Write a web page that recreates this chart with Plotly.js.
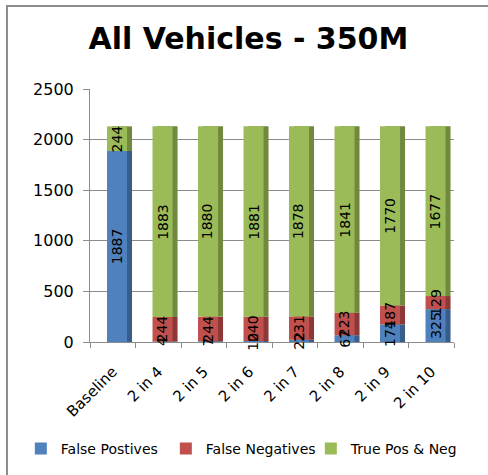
<!DOCTYPE html>
<html>
<head>
<meta charset="utf-8">
<script src="https://cdn.plot.ly/plotly-3.0.1.min.js"></script>
<style>
  html, body { margin: 0; padding: 0; background: #fff; }
  #frame { position: absolute; left: 6px; top: 5px; width: 482px; height: 470px;
           border-left: 2px solid #8c8c8c; border-top: 2px solid #8c8c8c; box-sizing: border-box; }
  #chart { position: absolute; left: 0; top: 0; width: 488px; height: 475px; }
</style>
</head>
<body>
<div id="frame"></div>
<div id="chart"></div>
<script>
// categories and series
const categories = ['Baseline', '2 in 4', '2 in 5', '2 in 6', '2 in 7', '2 in 8', '2 in 9', '2 in 10'];
const falsePositives = [1887, 4, 7, 10, 22, 67, 174, 325];
const falseNegatives = [0, 244, 244, 240, 231, 223, 187, 129];
const truePosNeg = [244, 1883, 1880, 1881, 1878, 1841, 1770, 1677];
const yTicks = [0, 500, 1000, 1500, 2000, 2500];

const fontFamily = 'DejaVu Sans, Verdana, sans-serif';

// stack bottoms, worked out from the series
const fnBase = falsePositives.slice();
const tpnBase = falsePositives.map((v, i) => v + falseNegatives[i]);

const series = [
    { name: 'False Postives', values: falsePositives, base: categories.map(() => 0), color: '#4f81bd', side: '#385d8a' },
    { name: 'False Negatives', values: falseNegatives, base: fnBase, color: '#c0504d', side: '#8c3836' },
    { name: 'True Pos & Neg', values: truePosNeg, base: tpnBase, color: '#9bbb59', side: '#71893f' }
];

const frontOffset = -0.126; // front face starts a bit right of slot centre
const barWidth = 0.44;
const depth = 0.11;          // fake 3D side face

// dark side faces first (behind), then the front faces
const sideTraces = series.map(s => ({
    type: 'bar',
    x: categories,
    y: s.values,
    base: s.base,
    width: barWidth,
    offset: frontOffset + depth,
    marker: { color: s.side, line: { width: 0 } },
    showlegend: false,
    hoverinfo: 'skip'
}));

const frontTraces = series.map(s => ({
    type: 'bar',
    name: s.name,
    x: categories,
    y: s.values,
    base: s.base,
    width: barWidth,
    offset: frontOffset,
    marker: { color: s.color, line: { width: 0 } },
    hoverinfo: 'x+y+name'
}));

// data labels on top of every bar, centred in each segment (Excel hides zeros)
const annotations = [];
series.forEach(s => {
    s.values.forEach((v, i) => {
        if (!v) return;
        annotations.push({
            x: categories[i],
            y: s.base[i] + v / 2,
            text: String(v),
            textangle: -90,
            showarrow: false,
            xshift: 4,
            font: { family: fontFamily, size: 14, color: '#000' }
        });
    });
});

const layout = {
    width: 488,
    height: 475,
    paper_bgcolor: 'rgba(0,0,0,0)',
    plot_bgcolor: 'rgba(0,0,0,0)',
    barmode: 'overlay',
    font: { family: fontFamily, size: 15, color: '#000' },
    title: {
        text: '<b>All Vehicles - 350M</b>',
        font: { family: fontFamily, size: 30, color: '#000' },
        x: 0.509, xanchor: 'center',
        y: 0.92, yanchor: 'middle'
    },
    margin: { l: 90, r: 34, t: 89, b: 132 },
    xaxis: {
        type: 'category',
        tickangle: -45,
        tickson: 'boundaries',
        ticks: 'outside',
        ticklen: 5,
        ticklabelstandoff: 14,
        tickcolor: '#8c8c8c',
        showline: true,
        linecolor: '#8c8c8c',
        linewidth: 1,
        showgrid: false,
        tickfont: { family: fontFamily, size: 15 }
    },
    yaxis: {
        range: [0, 2500],
        tickvals: yTicks,
        ticks: 'outside',
        ticklen: 6,
        ticklabelstandoff: 6,
        tickcolor: '#8c8c8c',
        showline: true,
        linecolor: '#8c8c8c',
        linewidth: 1,
        showgrid: true,
        gridcolor: '#8c8c8c',
        gridwidth: 1,
        zeroline: false,
        tickfont: { family: fontFamily, size: 16 }
    },
    legend: {
        orientation: 'h',
        x: -0.19, xanchor: 'left',
        y: -0.417, yanchor: 'middle',
        font: { family: fontFamily, size: 14 },
        itemwidth: 30,
        entrywidth: 100,
        traceorder: 'normal'
    },
    showlegend: true,
    annotations: annotations
};

Plotly.newPlot('chart', sideTraces.concat(frontTraces), layout, { displayModeBar: false, staticPlot: true });
</script>
</body>
</html>
